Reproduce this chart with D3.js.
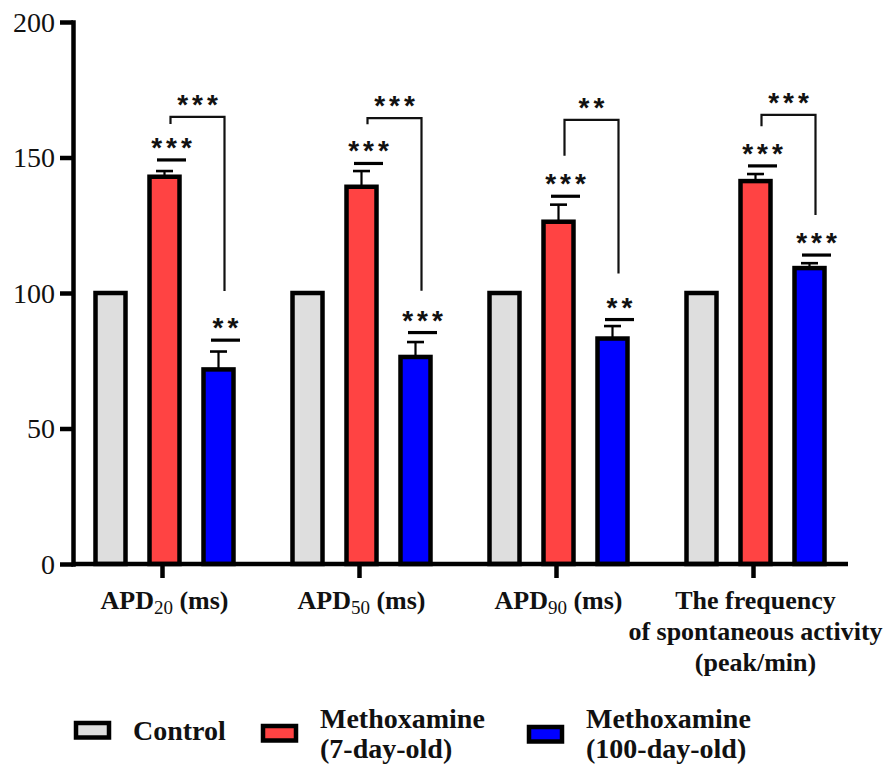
<!DOCTYPE html>
<html>
<head>
<meta charset="utf-8">
<script src="https://cdn.jsdelivr.net/npm/d3@7.9.0/dist/d3.min.js"></script>
<style>
  body { margin: 0; background: #fff; }
  svg { display: block; }
  .serif { font-family: "Liberation Serif", "Times New Roman", Times, serif; }
  .sans { font-family: "Liberation Sans", Arial, Helvetica, sans-serif; }
</style>
</head>
<body>
<div id="chart"></div>
<script>
// categories and their axis labels (_{..} = subscript)
const categories = ["APD20", "APD50", "APD90", "Frequency"];
const categoryLabels = [
    ["APD_{20} (ms)"],
    ["APD_{50} (ms)"],
    ["APD_{90} (ms)"],
    ["The frequency", "of spontaneous activity", "(peak/min)"]
];

// series
const seriesNames = ["Control", "Methoxamine (7-day-old)", "Methoxamine (100-day-old)"];
const legendLines = [["Control"], ["Methoxamine", "(7-day-old)"], ["Methoxamine", "(100-day-old)"]];
const seriesColors = ["#dedede", "#ff4343", "#0000ff"];

// values (% of control)
const controlValues = [100, 100, 100, 100];
const youngValues = [142.9, 139.2, 126.3, 141.3];
const youngSem = [2.1, 5.8, 6.3, 2.6];
const oldValues = [71.8, 76.4, 83.2, 109.2];
const oldSem = [6.6, 5.5, 4.6, 1.8];

// significance marks vs control
const youngStars = ["***", "***", "***", "***"];
const youngStarLevel = [149.1, 147.8, 135.7, 146.9];
const oldStars = ["**", "***", "**", "***"];
const oldStarLevel = [82.6, 85.4, 90.2, 114];

// brackets 7-day vs 100-day
const bracketStars = ["***", "***", "**", "***"];
const bracketTop = [165, 164.5, 163.9, 165.7];
const bracketLeftEnd = [162.4, 162.3, 150.6, 161.5];
const bracketRightEnd = [100.7, 100.8, 107.2, 128.8];

const yTicks = [0, 50, 100, 150, 200];

const width = 886, height = 767;
const svg = d3.select("#chart").append("svg")
    .attr("width", width)
    .attr("height", height);

const axisLeftX = 73, axisRightX = 848;
const yScale = d3.scaleLinear().domain([0, 200]).range([564, 22]);
const xScale = d3.scaleBand().domain(categories).range([66, 854]);
const xSub = d3.scalePoint().domain(seriesNames).range([-54, 54]);
const barW = 30;

// build table for bars
const bars = [];
categories.forEach((c, i) => {
    bars.push({ cat: c, s: seriesNames[0], v: controlValues[i], sem: null, color: seriesColors[0] });
    bars.push({ cat: c, s: seriesNames[1], v: youngValues[i], sem: youngSem[i], color: seriesColors[1] });
    bars.push({ cat: c, s: seriesNames[2], v: oldValues[i], sem: oldSem[i], color: seriesColors[2] });
});
const cx = d => xScale(d.cat) + xScale.bandwidth() / 2 + xSub(d.s);

// error bars (behind bars)
const err = svg.append("g").attr("stroke", "#000").attr("stroke-width", 2.2);
bars.filter(d => d.sem !== null).forEach(d => {
    err.append("line")
        .attr("x1", cx(d)).attr("x2", cx(d))
        .attr("y1", yScale(d.v)).attr("y2", yScale(d.v + d.sem));
    err.append("line")
        .attr("x1", cx(d) - 8.5).attr("x2", cx(d) + 8.5)
        .attr("y1", yScale(d.v + d.sem)).attr("y2", yScale(d.v + d.sem))
        .attr("stroke-width", 2.6);
});

// bars
svg.append("g").selectAll("rect")
    .data(bars)
    .join("rect")
    .attr("x", d => cx(d) - barW / 2)
    .attr("y", d => yScale(d.v))
    .attr("width", barW)
    .attr("height", d => yScale(0) - yScale(d.v))
    .attr("fill", d => d.color)
    .attr("stroke", "#000")
    .attr("stroke-width", 4.5);

// axes
const yAxis = svg.append("g")
    .attr("transform", `translate(${axisLeftX},0)`)
    .call(d3.axisLeft(yScale).tickValues(yTicks).tickSize(13).tickPadding(5).tickSizeOuter(0))
    .attr("font-family", null)
    .attr("font-size", null);
yAxis.select(".domain").attr("stroke-width", 4.5).attr("stroke-linecap", "square");
yAxis.selectAll(".tick line").attr("stroke-width", 4.5);
yAxis.selectAll(".tick text")
    .attr("class", "serif")
    .style("font-size", "28px")
    .attr("fill", "#111")
    .attr("dy", "0.33em");

const xAxis = svg.append("g")
    .attr("transform", `translate(0,${yScale(0)})`)
    .call(d3.axisBottom(xScale).tickSize(14).tickFormat("").tickSizeOuter(0));
xAxis.select(".domain").attr("d", `M${axisLeftX},0H${axisRightX}`).attr("stroke-width", 4.5);
xAxis.selectAll(".tick line").attr("stroke-width", 4.5).attr("transform", "translate(-2,0)");

// category labels
const labelG = svg.append("g")
    .attr("class", "serif")
    .style("font-weight", "bold")
    .style("font-size", "26px")
    .attr("text-anchor", "middle")
    .attr("fill", "#111");
categories.forEach((c, i) => {
    const x = xScale(c) + xScale.bandwidth() / 2;
    categoryLabels[i].forEach((line, j) => {
        const t = labelG.append("text").attr("x", x).attr("y", 609 + j * 31);
        const parts = line.split(/_\{(\d+)\}/);
        parts.forEach((p, k) => {
            if (!p) return;
            if (k % 2 === 1) {
                t.append("tspan").text(p)
                    .style("font-weight", "normal").style("font-size", "19px").attr("dy", 5);
            } else {
                t.append("tspan").text(p).attr("dy", k > 0 ? -5 : 0);
            }
        });
    });
});

// significance over bars
const starG = svg.append("g");
function stars(x, lineY, txt) {
    starG.append("text")
        .attr("class", "sans")
        .attr("x", x + 2).attr("y", lineY - 3)
        .attr("text-anchor", "middle")
        .style("font-weight", "bold")
        .style("font-size", "28px")
        .attr("letter-spacing", 4)
        .attr("fill", "#111")
        .text(txt);
}
categories.forEach((c, i) => {
    const xc = xScale(c) + xScale.bandwidth() / 2;
    const xr = xc + xSub(seriesNames[1]) + 7;
    const xb = xc + xSub(seriesNames[2]) + 7;
    [[xr, youngStarLevel[i], youngStars[i]], [xb, oldStarLevel[i], oldStars[i]]].forEach(([x, lv, s]) => {
        const ly = yScale(lv);
        starG.append("line")
            .attr("x1", x - 14.5).attr("x2", x + 14.5)
            .attr("y1", ly).attr("y2", ly)
            .attr("stroke", "#000").attr("stroke-width", 3.2);
        stars(x, ly, s);
    });
    // bracket
    const bl = xc + xSub(seriesNames[1]) + 6;
    const br = xc + xSub(seriesNames[2]) + 6;
    const top = yScale(bracketTop[i]);
    starG.append("path")
        .attr("d", `M${bl},${yScale(bracketLeftEnd[i])}V${top}H${br}V${yScale(bracketRightEnd[i])}`)
        .attr("fill", "none")
        .attr("stroke", "#111")
        .attr("stroke-width", 2.2);
    stars((bl + br) / 2, top, bracketStars[i]);
});

// legend
const legendX = [76, 263, 529];
const legendSwatchY = [723, 726, 727];
const legendTextX = [133, 320, 586];
const legend = svg.append("g");
seriesNames.forEach((s, i) => {
    legend.append("rect")
        .attr("x", legendX[i]).attr("y", legendSwatchY[i])
        .attr("width", 33).attr("height", 14.5)
        .attr("fill", seriesColors[i])
        .attr("stroke", "#000")
        .attr("stroke-width", 4.5);
    const lines = legendLines[i];
    lines.forEach((ln, j) => {
        legend.append("text")
            .attr("class", "serif")
            .attr("x", legendTextX[i])
            .attr("y", lines.length === 1 ? 740 : 728 + j * 30)
            .style("font-weight", "bold")
            .style("font-size", "28px")
            .attr("fill", "#111")
            .text(ln);
    });
});
</script>
</body>
</html>
